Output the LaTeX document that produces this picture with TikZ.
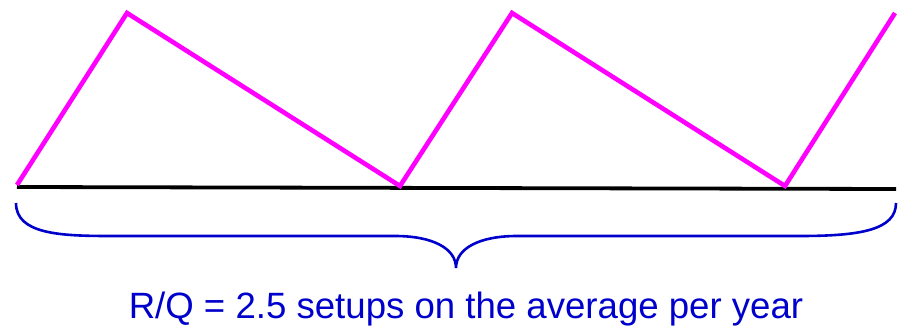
\documentclass[tikz,border=0pt]{standalone}
\usepackage{fontspec}
\setmainfont{Liberation Sans}
\definecolor{zig}{RGB}{255,0,255}
\definecolor{bluebrace}{RGB}{0,0,204}
\begin{document}
\begin{tikzpicture}[x=1pt,y=-1pt,
  zigline/.style={draw=zig,line width=4.6pt,line join=miter},
  axisline/.style={draw=black,line width=3.8pt},
  bracestyle/.style={draw=bluebrace,line width=2.6pt},
  caption/.style={text=bluebrace,font=\fontsize{36.6}{42}\selectfont,inner sep=0pt,anchor=base}]
\useasboundingbox (0,0) rectangle (905,329);
\coordinate (p0) at (17,185);
\coordinate (p1) at (127,13);
\coordinate (p2) at (400,186);
\coordinate (p3) at (512,13);
\coordinate (p4) at (785,186);
\coordinate (p5) at (895,13);
\coordinate (a0) at (17,187);
\coordinate (a1) at (896,189);
\coordinate (bl) at (16,203);
\coordinate (bt) at (456,268);
\coordinate (br) at (896,203);
\draw[axisline] (a0) -- (a1);
\draw[zigline] (p0) -- (p1) -- (p2) -- (p3) -- (p4) -- (p5);
\draw[bracestyle] (bl) .. controls (16,234) and (60,236) .. (110,236)
  -- (395,236) .. controls (432,236) and (456,248) .. (bt)
  .. controls (456,248) and (480,236) .. (517,236)
  -- (800,236) .. controls (860,236) and (896,230) .. (br);
\node[caption] (cap) at (466,318) {R/Q = 2.5 setups on the average per year};
\end{tikzpicture}
\end{document}
